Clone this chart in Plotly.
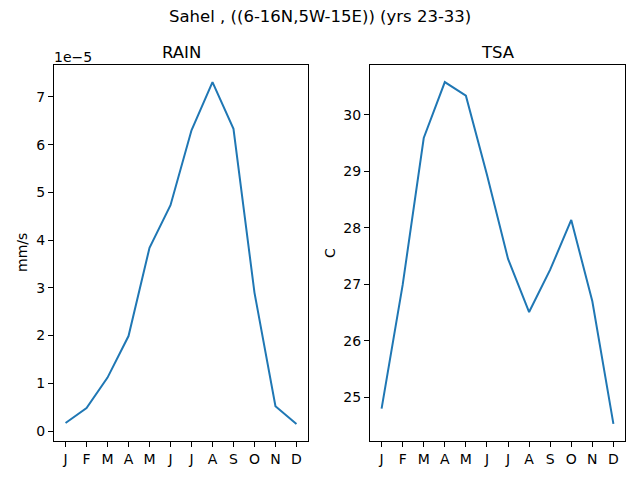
import numpy as np
import plotly.graph_objects as go

months = ["J", "F", "M", "A", "M", "J", "J", "A", "S", "O", "N", "D"]

# rain in units of 1e-5 mm/s
rain_e5 = [0.17, 0.48, 1.12, 1.99, 3.84, 4.73, 6.30, 7.31, 6.33, 2.90, 0.52, 0.15]
# surface air temperature, C
tsa = [24.80, 26.99, 29.59, 30.58, 30.34, 28.94, 27.45, 26.51, 27.26, 28.14, 26.70, 24.53]

rain = np.array(rain_e5) * 1e-5
xs = np.arange(len(months))

W, H = 640, 480
blue = "#1f77b4"
font = "DejaVu Sans"


def pad_range(v, frac=0.05):
    lo, hi = float(np.min(v)), float(np.max(v))
    d = (hi - lo) * frac
    return [lo - d, hi + d]


# axes boxes in pixels (left, right, top, bottom)
left_box = (54, 308, 65, 441)
right_box = (370, 625, 65, 441)


def xdom(b):
    return [b[0] / W, b[1] / W]


def ydom(b):
    return [1 - b[3] / H, 1 - b[2] / H]


fig = go.Figure()
fig.add_trace(go.Scatter(x=xs, y=rain, mode="lines", line=dict(color=blue, width=2),
                         xaxis="x", yaxis="y", showlegend=False))
fig.add_trace(go.Scatter(x=xs, y=tsa, mode="lines", line=dict(color=blue, width=2),
                         xaxis="x2", yaxis="y2", showlegend=False))

axis_common = dict(showline=True, mirror=True, linecolor="black", linewidth=1,
                   showgrid=False, zeroline=False, ticks="outside", ticklen=5,
                   tickcolor="black", tickwidth=1,
                   tickfont=dict(family=font, size=14, color="black"))

xr = pad_range(xs)
rain_ticks = np.arange(0, 8) * 1e-5

fig.update_layout(
    width=W, height=H,
    margin=dict(l=0, r=0, t=0, b=0, autoexpand=False),
    paper_bgcolor="white", plot_bgcolor="white",
    font=dict(family=font, color="black"),
    xaxis=dict(domain=xdom(left_box), range=xr, tickvals=list(xs), ticktext=months,
               anchor="y", **axis_common),
    yaxis=dict(domain=ydom(left_box), range=pad_range(rain), tickvals=list(rain_ticks),
               ticktext=[str(i) for i in range(8)], anchor="x", **axis_common),
    xaxis2=dict(domain=xdom(right_box), range=xr, tickvals=list(xs), ticktext=months,
                anchor="y2", **axis_common),
    yaxis2=dict(domain=ydom(right_box), range=pad_range(tsa), dtick=1, anchor="x2",
                **axis_common),
)

ann_font = dict(family=font, size=14, color="black")
title_font = dict(family=font, size=16.5, color="black")


def label(px, py, text, f, angle=0, xanchor="center"):
    fig.add_annotation(x=px / W, y=1 - py / H, xref="paper", yref="paper",
                       showarrow=False, text=text, font=f, textangle=angle,
                       xanchor=xanchor, yanchor="middle")


label(320, 17, "Sahel , ((6-16N,5W-15E)) (yrs 23-33)", title_font)
label((left_box[0] + left_box[1]) / 2, 52, "RAIN", title_font)
label((right_box[0] + right_box[1]) / 2, 52, "TSA", title_font)
label(52, 57, "1e\u22125", ann_font, xanchor="left")
label(22, 253, "mm/s", ann_font, angle=-90)
label(330, 253, "C", ann_font, angle=-90)

fig.write_html("out.html", config={"displayModeBar": False},
               post_script="document.body.style.margin='0';")
